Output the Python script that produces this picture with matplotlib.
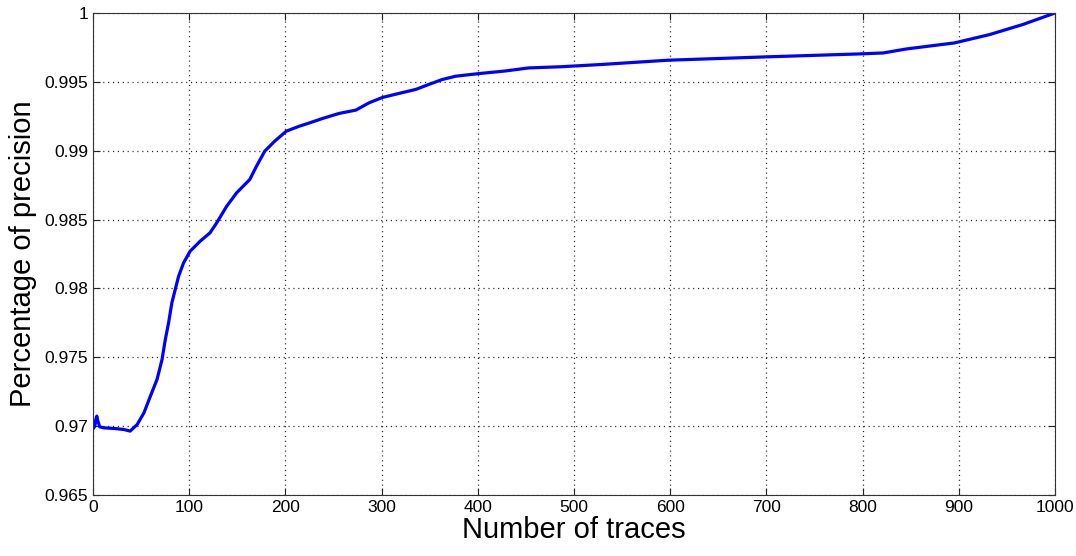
#!/usr/bin/env python3

# Precision vs. number of traces, MATLAB-style line plot

import matplotlib
matplotlib.use("Agg")
import matplotlib.pyplot as plt
from matplotlib.ticker import FuncFormatter

# Datos
traces = [0, 2, 3, 4, 5, 7, 11, 18, 25, 32, 38.6, 46, 53, 59.7, 66.6, 71.8,
          75.2, 78.6, 82, 85.5, 89, 94.2, 101, 111.4, 121.7, 128.6, 139,
          149.3, 163, 170, 178.6, 189, 201, 214.8, 223.4, 239, 256, 273.3,
          287, 301, 318, 335.5, 349, 363, 377, 401, 428.5, 452.6, 487, 528,
          597, 697.5, 797, 821.5, 845.6, 895.6, 931.8, 966.3, 1000]
precision = [0.9698, 0.9700, 0.97049, 0.97073, 0.9704, 0.96995, 0.96988,
             0.96985, 0.96981, 0.96976, 0.96964, 0.97012, 0.97097, 0.97218,
             0.97339, 0.97484, 0.97629, 0.97750, 0.97895, 0.97992, 0.98088,
             0.98186, 0.98270, 0.98343, 0.98404, 0.98476, 0.98597, 0.98694,
             0.98791, 0.98888, 0.98997, 0.99070, 0.99142, 0.99179, 0.99198,
             0.99235, 0.99271, 0.99295, 0.99348, 0.99387, 0.99416, 0.99445,
             0.99481, 0.99517, 0.99541, 0.99560, 0.99579, 0.99601, 0.99610,
             0.99626, 0.99657, 0.99681, 0.99703, 0.99710, 0.99739, 0.99783,
             0.99843, 0.99916, 1.0]

x_ticks = [0, 100, 200, 300, 400, 500, 600, 700, 800, 900, 1000]
y_ticks = [0.965, 0.97, 0.975, 0.98, 0.985, 0.99, 0.995, 1.0]

plt.rcParams['font.family'] = ['Liberation Sans', 'DejaVu Sans']

fig = plt.figure(figsize=(10.76, 5.56), dpi=100)
ax = fig.add_axes([0.0864, 0.1097, 0.8941, 0.8669])

ax.plot(traces, precision, color='#0000ff', linewidth=2.3)

ax.set_xlim(0, 1000)
ax.set_ylim(0.965, 1.0)
ax.set_xticks(x_ticks)
ax.set_yticks(y_ticks)
ax.yaxis.set_major_formatter(FuncFormatter(lambda v, p: '%g' % round(v, 3)))

ax.grid(True, linestyle=(0, (0.9, 3.0)), color='#222222', linewidth=0.9)
ax.tick_params(direction='in', length=5, width=0.8, top=True, right=True,
               labelsize=12.5, colors='#222222', labelcolor='black')
for s in ax.spines.values():
    s.set_color('#333333')
    s.set_linewidth(0.8)

ax.set_xlabel("Number of traces", fontsize=21, labelpad=1)
ax.set_ylabel("Percentage of precision", fontsize=21, labelpad=5)

fig.savefig("out.png", dpi=100)
